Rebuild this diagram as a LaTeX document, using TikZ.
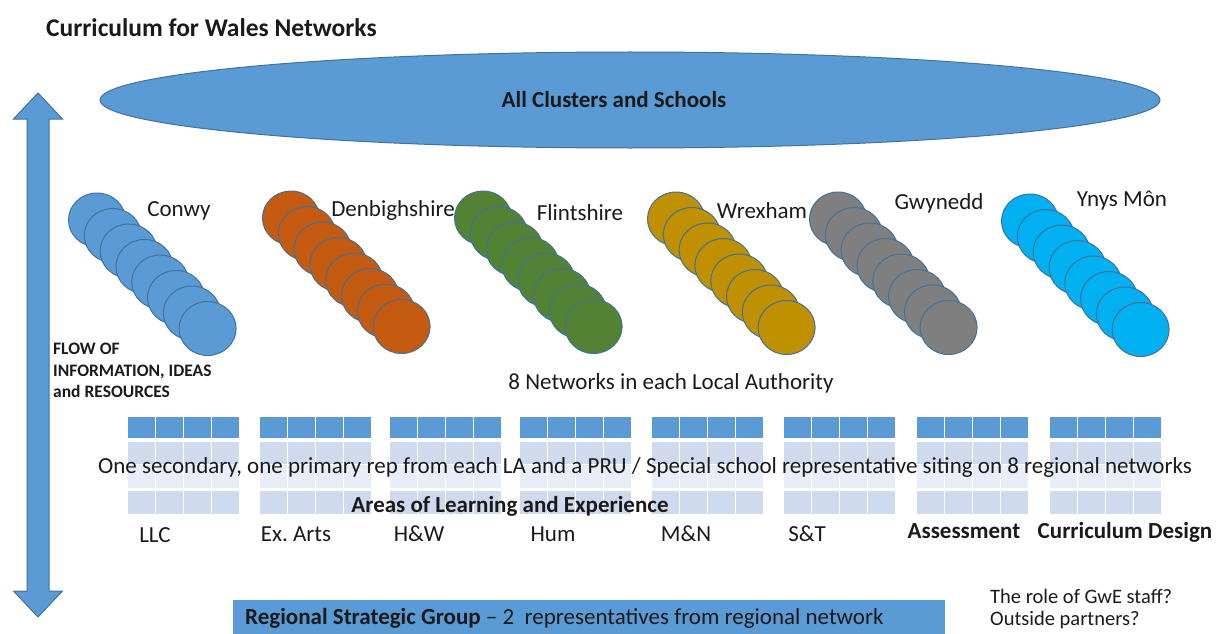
\documentclass[tikz,border=0pt]{standalone}
\usepackage{fontspec}
\setmainfont{Carlito}
\frenchspacing
\definecolor{cblue}{HTML}{5B9BD5}
\definecolor{cedge}{HTML}{41719C}
\definecolor{corange}{HTML}{C55A11}
\definecolor{cgreen}{HTML}{548235}
\definecolor{cgold}{HTML}{BF9000}
\definecolor{cgray}{HTML}{7F7F7F}
\definecolor{ccyan}{HTML}{00B0F0}
\definecolor{rowA}{HTML}{CFDAEE}
\definecolor{rowB}{HTML}{E9EDF7}
\definecolor{txt}{HTML}{1A1A1A}
\tikzset{
  disc/.style={draw=cedge, line width=1pt},
  lbl/.style={text=txt, inner sep=0pt, font=\fontsize{23}{27}\selectfont},
  blbl/.style={text=txt, inner sep=0pt, font=\fontsize{23}{27}\selectfont\bfseries},
}
\begin{document}
\begin{tikzpicture}[x=1pt,y=-1pt]
\useasboundingbox (0,0) rectangle (1216,634);
% title
\node[blbl, anchor=west, font=\fontsize{25.5}{30}\selectfont\bfseries] (title) at (46,28) {Curriculum for Wales Networks};
% big ellipse
\draw[disc, fill=cblue] (630,100) ellipse [x radius=530, y radius=48];
\node[blbl] (all) at (614,100) {All Clusters and Schools};
% double arrow
\draw[disc, fill=cblue] (38,93) -- (62.5,119) -- (49,119) -- (49,591) -- (62.5,591) -- (38,617)
  -- (13.5,591) -- (27,591) -- (27,119) -- (13.5,119) -- cycle;
\node[text=txt, inner sep=0pt, anchor=north west, align=left, font=\fontsize{17.5}{21.5}\selectfont\bfseries] (flow) at (53,343)
  {FLOW OF\\INFORMATION, IDEAS\\and RESOURCES};
% chains of circles
\foreach \cx/\cy/\col in {97/220/cblue, 291/218/corange, 483/218/cgreen, 676/219/cgold, 838/219/cgray, 1030/221/ccyan}{
  \foreach \i in {0,...,7}{
    \draw[disc, fill=\col] ({\cx+\i*15.8},{\cy+\i*15.5}) ellipse [x radius=28.5, y radius=27];
  }
}
\node[lbl] (conwy) at (179,211) {Conwy};
\node[lbl] (denb) at (393,210) {Denbighshire};
\node[lbl] (flint) at (580,213) {Flintshire};
\node[lbl] (wrex) at (762,211) {Wrexham};
\node[lbl] (gwyn) at (939,203) {Gwynedd};
\node[lbl] (ynys) at (1122,201) {Ynys Môn};
\node[lbl] (eight) at (671,383) {8 Networks in each Local Authority};
% tables
\foreach \tx in {128,260,390,520,652,784,917,1050}{
  \foreach \c in {0,1,2,3}{
    \fill[cblue] ({\tx+\c*28},417) rectangle ++(27,21);
    \fill[rowA] ({\tx+\c*28},442) rectangle ++(27,22);
    \fill[rowB] ({\tx+\c*28},465) rectangle ++(27,23);
    \fill[rowA] ({\tx+\c*28},491) rectangle ++(27,23);
  }
}
\node[lbl] (one) at (645,467) {One secondary, one primary rep from each LA and a PRU / Special school representative siting on 8 regional networks};
\node[blbl] (areas) at (510,506) {Areas of Learning and Experience};
\node[lbl] (llc) at (155,535) {LLC};
\node[lbl] (arts) at (296,534) {Ex. Arts};
\node[lbl] (hw) at (419,534) {H\&W};
\node[lbl] (hum) at (553,534) {Hum};
\node[lbl] (mn) at (686,534) {M\&N};
\node[lbl] (st) at (807,534) {S\&T};
\node[blbl] (assess) at (964,531) {Assessment};
\node[blbl] (cd) at (1125,532) {Curriculum Design};
% bottom bar
\fill[cblue] (233,600) rectangle (945,634);
\node[lbl, anchor=west] (rsg) at (245,618) {\textbf{Regional Strategic Group} -- 2\ \ representatives from regional network};
\node[text=txt, inner sep=0pt, anchor=west, font=\fontsize{20.5}{24}\selectfont] (gwe) at (990,596) {The role of GwE staff?};
\node[text=txt, inner sep=0pt, anchor=west, font=\fontsize{20.5}{24}\selectfont] (out) at (990,620) {Outside partners?};
\end{tikzpicture}
\end{document}
